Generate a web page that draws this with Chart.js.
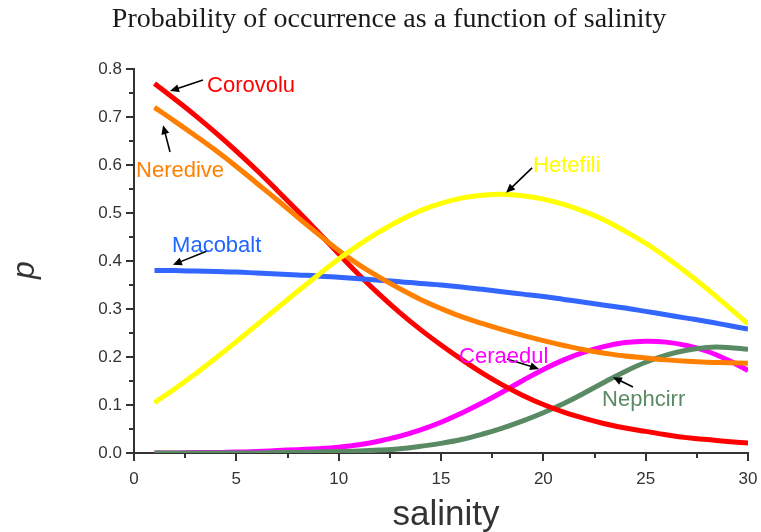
<!DOCTYPE html>
<html>
<head>
<meta charset="utf-8">
<title>Probability of occurrence as a function of salinity</title>
<script src="https://cdn.jsdelivr.net/npm/chart.js@4.4.1/dist/chart.umd.min.js"></script>
<style>
  html, body { margin: 0; padding: 0; background: #fff; }
  #wrap { width: 761px; height: 532px; position: relative; }
</style>
</head>
<body>
<div id="wrap"><canvas id="salinityChart"></canvas></div>
<script>
// salinity values (x) and fitted occurrence probabilities per taxon
const salinity = [1, 2, 3, 4, 5, 6, 7, 8, 9, 10, 11, 12, 13, 14, 15,
  16, 17, 18, 19, 20, 21, 22, 23, 24, 25, 26, 27, 28, 29, 30];

const corovolu = [0.770, 0.737, 0.703, 0.667, 0.629, 0.589, 0.547, 0.504, 0.460, 0.415,
  0.371, 0.330, 0.292, 0.257, 0.225, 0.195, 0.167, 0.142, 0.120, 0.101,
  0.085, 0.072, 0.061, 0.052, 0.045, 0.038, 0.032, 0.028, 0.024, 0.021];

const neredive = [0.720, 0.691, 0.661, 0.630, 0.597, 0.562, 0.527, 0.491, 0.456, 0.422,
  0.392, 0.366, 0.342, 0.320, 0.301, 0.284, 0.270, 0.257, 0.245, 0.234,
  0.224, 0.215, 0.208, 0.202, 0.198, 0.194, 0.191, 0.189, 0.188, 0.187];

const macobalt = [0.380, 0.380, 0.379, 0.378, 0.377, 0.375, 0.373, 0.371, 0.369, 0.366,
  0.363, 0.360, 0.357, 0.353, 0.350, 0.346, 0.341, 0.336, 0.331, 0.326,
  0.320, 0.314, 0.308, 0.302, 0.295, 0.288, 0.281, 0.274, 0.266, 0.258];

const hetefili = [0.105, 0.134, 0.165, 0.198, 0.232, 0.267, 0.302, 0.337, 0.371, 0.404,
  0.434, 0.461, 0.485, 0.505, 0.520, 0.531, 0.537, 0.539, 0.536, 0.529,
  0.518, 0.503, 0.485, 0.462, 0.437, 0.408, 0.376, 0.342, 0.306, 0.269];

const ceraedul = [0.000, 0.000, 0.001, 0.001, 0.002, 0.003, 0.005, 0.007, 0.009, 0.012,
  0.017, 0.025, 0.035, 0.048, 0.064, 0.083, 0.104, 0.127, 0.151, 0.174,
  0.194, 0.210, 0.222, 0.230, 0.233, 0.231, 0.224, 0.212, 0.194, 0.172];

const nephcirr = [0.000, 0.000, 0.000, 0.000, 0.000, 0.000, 0.001, 0.001, 0.002, 0.003,
  0.004, 0.006, 0.009, 0.014, 0.020, 0.028, 0.039, 0.052, 0.067, 0.084,
  0.103, 0.125, 0.148, 0.170, 0.189, 0.204, 0.214, 0.220, 0.220, 0.216];

const xTicks = [0, 5, 10, 15, 20, 25, 30];
const yTicks = [0.0, 0.1, 0.2, 0.3, 0.4, 0.5, 0.6, 0.7, 0.8];

// label text, baseline position and arrow (tail -> head), in data units
const labelNames  = ['Corovolu', 'Neredive', 'Macobalt', 'Hetefili', 'Ceraedul', 'Nephcirr'];
const labelColors = ['#ff0000', '#ff8000', '#1f66ff', '#ffff00', '#ff00ff', '#5a8a64'];
const labelPos    = [[3.57, 0.752], [0.1, 0.575], [1.86, 0.419], [19.5, 0.585], [15.88, 0.1875], [22.87, 0.098]];
const arrowTail   = [[3.37, 0.777], [1.76, 0.627], [3.57, 0.421], [19.45, 0.594], [18.22, 0.196], [24.38, 0.1375]];
const arrowHead   = [[1.76, 0.754], [1.42, 0.683], [1.9, 0.392], [18.18, 0.542], [19.79, 0.175], [23.4, 0.158]];

const AXIS = '#333333';
const SANS = 'Arial, "Liberation Sans", sans-serif';

function series(label, values, color, order) {
  return {
    label: label,
    data: values.map((v, i) => ({ x: salinity[i], y: v })),
    borderColor: color,
    borderWidth: 5,
    pointRadius: 0,
    fill: false,
    tension: 0.4,
    borderCapStyle: 'butt',
    order: order
  };
}

function drawArrow(ctx, x1, y1, x2, y2) {
  const ang = Math.atan2(y2 - y1, x2 - x1);
  const len = 9, half = 4;
  ctx.strokeStyle = '#000';
  ctx.fillStyle = '#000';
  ctx.lineWidth = 1.6;
  ctx.beginPath();
  ctx.moveTo(x1, y1);
  ctx.lineTo(x2 - Math.cos(ang) * len * 0.8, y2 - Math.sin(ang) * len * 0.8);
  ctx.stroke();
  ctx.beginPath();
  ctx.moveTo(x2, y2);
  ctx.lineTo(x2 - Math.cos(ang) * len + Math.sin(ang) * half, y2 - Math.sin(ang) * len - Math.cos(ang) * half);
  ctx.lineTo(x2 - Math.cos(ang) * len - Math.sin(ang) * half, y2 - Math.sin(ang) * len + Math.cos(ang) * half);
  ctx.closePath();
  ctx.fill();
}

// titles, minor ticks and the labelled arrows
const decorations = {
  id: 'decorations',
  afterDraw(chart) {
    const { ctx, chartArea: a, scales: { x, y } } = chart;
    ctx.save();

    // minor ticks
    ctx.strokeStyle = AXIS;
    ctx.lineWidth = 2;
    for (let v = 2.5; v < 30; v += 5) {
      const px = Math.round(x.getPixelForValue(v));
      ctx.beginPath(); ctx.moveTo(px, a.bottom); ctx.lineTo(px, a.bottom + 5); ctx.stroke();
    }
    for (let v = 0.05; v < 0.8; v += 0.1) {
      const py = Math.round(y.getPixelForValue(v));
      ctx.beginPath(); ctx.moveTo(a.left, py); ctx.lineTo(a.left - 5, py); ctx.stroke();
    }

    // chart title
    ctx.fillStyle = '#1a1a1a';
    ctx.font = '28px "Liberation Serif", "Times New Roman", serif';
    ctx.textAlign = 'center';
    ctx.textBaseline = 'alphabetic';
    ctx.fillText('Probability of occurrence as a function of salinity', 389, 27);

    // axis titles
    ctx.fillStyle = '#333';
    ctx.font = '35px ' + SANS;
    ctx.fillText('salinity', (a.left + a.right) / 2 + 5, 525);

    ctx.save();
    ctx.translate(34, 270);
    ctx.rotate(-Math.PI / 2);
    ctx.font = 'italic 32px ' + SANS;
    ctx.fillText('p', 0, 0);
    ctx.restore();

    // species labels with arrows
    ctx.font = '22px ' + SANS;
    ctx.textAlign = 'left';
    labelNames.forEach((name, i) => {
      drawArrow(ctx,
        x.getPixelForValue(arrowTail[i][0]), y.getPixelForValue(arrowTail[i][1]),
        x.getPixelForValue(arrowHead[i][0]), y.getPixelForValue(arrowHead[i][1]));
      ctx.fillStyle = labelColors[i];
      ctx.fillText(name, x.getPixelForValue(labelPos[i][0]), y.getPixelForValue(labelPos[i][1]));
    });

    ctx.restore();
  }
};

new Chart(document.getElementById('salinityChart'), {
  type: 'line',
  data: {
    datasets: [
      series('Hetefili', hetefili, '#ffff00', 1),
      series('Neredive', neredive, '#ff8000', 2),
      series('Macobalt', macobalt, '#3366ff', 3),
      series('Corovolu', corovolu, '#ff0000', 4),
      series('Nephcirr', nephcirr, '#5a8a64', 5),
      series('Ceraedul', ceraedul, '#ff00ff', 6)
    ]
  },
  options: {
    responsive: true,
    maintainAspectRatio: false,
    animation: false,
    layout: { padding: { left: 0, right: 13, top: 69, bottom: 0 } },
    plugins: { legend: { display: false }, tooltip: { enabled: false } },
    scales: {
      x: {
        type: 'linear',
        min: 0, max: 30,
        afterFit(scale) { scale.height = 79; scale.paddingRight = 0; scale.paddingLeft = 0; },
        afterBuildTicks(scale) { scale.ticks = xTicks.map(v => ({ value: v })); },
        border: { display: true, color: AXIS, width: 2 },
        grid: { drawOnChartArea: false, drawTicks: true, tickLength: 8, color: AXIS, lineWidth: 2 },
        ticks: { color: AXIS, padding: 8, font: { family: SANS, size: 17 }, maxRotation: 0 }
      },
      y: {
        type: 'linear',
        min: 0, max: 0.8,
        afterFit(scale) { scale.width = 134; scale.paddingTop = 0; scale.paddingBottom = 0; },
        afterBuildTicks(scale) { scale.ticks = yTicks.map(v => ({ value: v })); },
        border: { display: true, color: AXIS, width: 2 },
        grid: { drawOnChartArea: false, drawTicks: true, tickLength: 8, color: AXIS, lineWidth: 2 },
        ticks: {
          color: AXIS, padding: 4, font: { family: SANS, size: 17 },
          callback: v => v.toFixed(1)
        }
      }
    }
  },
  plugins: [decorations]
});
</script>
</body>
</html>
